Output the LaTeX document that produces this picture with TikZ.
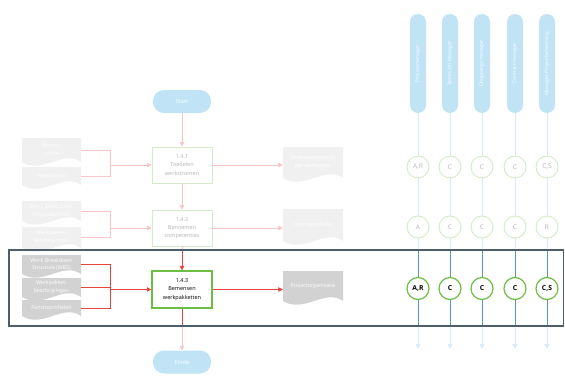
\documentclass[tikz,border=0pt]{standalone}
\usepackage{fontspec}
\setmainfont{Open Sans}
\usetikzlibrary{arrows.meta}
\definecolor{pinkf}{HTML}{F8C6C6}
\definecolor{redl}{HTML}{E8443C}
\definecolor{docf}{HTML}{F0F0F0}
\definecolor{docd}{HTML}{D2D2D2}
\definecolor{greenf}{HTML}{D3EBC6}
\definecolor{greend}{HTML}{6DBE45}
\definecolor{txtf}{HTML}{B4B4B4}
\definecolor{pill}{HTML}{C0E3F6}
\definecolor{lanef}{HTML}{D6ECF7}
\definecolor{laned}{HTML}{4C9CC6}
\definecolor{frame}{HTML}{4E5D6B}
\tikzset{
  x=1pt, y=-1pt,
  tip/.style={-{Triangle[length=4.5pt,width=4.5pt]}},
  flowf/.style={draw=pinkf, line width=0.8pt, tip},
  flowd/.style={draw=redl, line width=0.8pt, tip},
  linef/.style={draw=pinkf, line width=0.8pt},
  lined/.style={draw=redl, line width=0.8pt},
  term/.style={fill=pill, rounded corners=11pt, minimum width=58pt, minimum height=23pt, text=white, font=\fontsize{5.5}{7}\selectfont, inner sep=0},
  procf/.style={draw=greenf, line width=0.9pt, fill=white, minimum width=60pt, minimum height=36pt, inner sep=0, text=txtf, align=center, font=\fontsize{5.5}{8.3}\selectfont},
  procd/.style={draw=greend, line width=1.3pt, fill=white, minimum width=60pt, minimum height=37pt, inner sep=0, text=black, align=center, font=\fontsize{5.5}{8.3}\selectfont},
  doctext/.style={inner sep=0, text=white, align=center, font=\fontsize{5.3}{7.8}\selectfont},
  lane/.style={fill=pill, rounded corners=8pt, rotate=90, minimum width=99pt, minimum height=16pt, inner sep=0, text=white, font=\fontsize{5}{6}\selectfont},
  lanelinef/.style={draw=lanef, line width=1pt, -{Triangle[length=5pt,width=5pt]}},
  lanelined/.style={draw=laned, line width=1pt},
  racif/.style={circle, draw=greenf, line width=0.9pt, fill=white, minimum size=22pt, inner sep=0, text=txtf, font=\fontsize{6.5}{7}\selectfont},
  racid/.style={circle, draw=greend, line width=1.2pt, fill=white, minimum size=22pt, inner sep=0, text=black, font=\bfseries\fontsize{6.8}{7}\selectfont},
  hlframe/.style={draw=frame, line width=1.3pt}
}
% #1 name, #2 centre x, #3 top, #4 bottom, #5 width, #6 fill colour, #7 text
\newcommand{\docu}[7]{%
  \fill[#6] ({#2-#5/2},#3) -- ({#2+#5/2},#3) -- ({#2+#5/2},#4)
    .. controls ({#2+#5/2-0.3*#5},{#4-13}) and ({#2-#5/2+0.35*#5},{#4+13}) .. ({#2-#5/2},{#4}) -- cycle;
  \node[doctext, minimum width={#5*1pt}, minimum height={(#4-#3)*1pt}] (#1) at ({#2},{(#3+#4)/2}) {#7};
}
\begin{document}
\begin{tikzpicture}
\useasboundingbox (0,0) rectangle (565,380);
\coordinate (hl1) at (9,250);
\coordinate (hl2) at (563.5,326);

% ---------- swimlanes ----------
\foreach \x/\n/\t in {418/1/Projectmanager, 450/2/Technisch Manager, 482/3/Omgevingsmanager, 515/4/Contractmanager, 547/5/Manager Projectbeheersing}{
  \node[lane] (p\n) at (\x,63.5) {\t};
  \coordinate (e\n) at (\x,349);
  \draw[lanelinef] (p\n.west) -- (e\n);
}
\begin{scope}
  \clip (hl1) rectangle (hl2);
  \foreach \n in {1,...,5}{ \draw[lanelined] (p\n.west) -- (e\n); }
\end{scope}
\foreach \x/\n/\a/\b/\c in {418/1/{A,R}/A/{A,R}, 450/2/C/C/C, 482/3/C/C/C, 515/4/C/C/C, 547/5/{C,S}/R/{C,S}}{
  \node[racif] (r1\n) at (\x,167) {\a};
  \node[racif] (r2\n) at (\x,227) {\b};
  \node[racid] (r3\n) at (\x,288.5) {\c};
}

% ---------- main flow ----------
\node[term] (start) at (182,101.5) {Start};
\node[term] (einde) at (182,362) {Einde};
\node[procf] (b1) at (182,165) {1.4.1\\Toedelen\\werkstromen};
\node[procf] (b2) at (182,228) {1.4.2\\Benoemen\\competenties};
\node[procd] (b3) at (182,289.5) {1.4.3\\Bemensen\\werkpakketten};

\draw[flowf] (start) -- (b1);
\draw[flowf] (b1) -- (b2);
\draw[flowf] (b2) -- (b3);
\draw[flowf] (b3) -- (einde);
\begin{scope}
  \clip (hl1) rectangle (hl2);
  \draw[flowd] (b2) -- (b3);
  \draw[lined] (b3) -- (einde);
\end{scope}

% ---------- input documents ----------
\docu{i11}{51.5}{138}{162}{59}{docf}{Project\\scope}
\docu{i12}{51.5}{167}{185}{59}{docf}{Werksporen}
\docu{i21}{51.5}{201}{221}{59}{docf}{Work Breakdown\\Structure (WBS)}
\docu{i22}{51.5}{227}{248}{59}{docf}{Werkpakket-\\beschrijvingen}
\docu{i31}{51.5}{255}{274}{59}{docd}{Work Breakdown\\Structure (WBS)}
\docu{i32}{51.5}{278}{297}{59}{docd}{Werkpakket-\\beschrijvingen}
\docu{i33}{51.5}{300}{316}{59}{docd}{Functieprofielen}

\coordinate (j1) at (110,165);
\coordinate (j2) at (110,228);
\coordinate (j3) at (110,289.5);
\draw[linef] (i11.east) -| (j1);
\draw[linef] (i12.east) -| (j1);
\draw[flowf] (j1) -- (b1.west);
\draw[linef] (i21.east) -| (j2);
\draw[linef] (i22.east) -| (j2);
\draw[flowf] (j2) -- (b2.west);
\draw[lined] (i31.east) -| (j3);
\draw[lined] (i33.east) -| (j3);
\draw[lined] (i32.east) -- (i32.east -| j3);
\draw[flowd] (j3) -- (b3.west);

% ---------- output documents ----------
\docu{o1}{313}{147}{178}{60}{docf}{Verantwoordelijke\\per werkspoor}
\docu{o2}{313}{209}{241}{60}{docf}{Functieprofielen}
\docu{o3}{313}{271}{301}{60}{docd}{Projectorganisatie}
\draw[flowf] (b1.east) -- (b1.east -| o1.west);
\draw[flowf] (b2.east) -- (b2.east -| o2.west);
\draw[flowd] (b3.east) -- (b3.east -| o3.west);

% ---------- highlight frame ----------
\draw[hlframe] (hl1) rectangle (hl2);
\end{tikzpicture}
\end{document}
